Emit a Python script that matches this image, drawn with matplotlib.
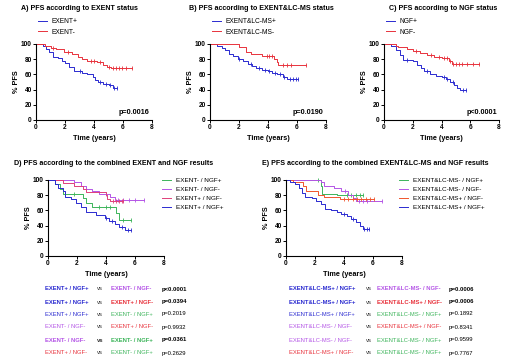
import matplotlib
matplotlib.use("Agg")
import matplotlib.pyplot as plt
import numpy as np

plt.rcParams['font.family'] = ['Liberation Sans', 'DejaVu Sans']

BLUE = '#2a2ad0'
RED = '#e8323c'
GREEN = '#3cb45a'
PURPLE = '#b455e6'
MAGENTA = '#e0407a'
ORANGE = '#f0552d'

# ---- Kaplan-Meier step data: event times, survival after each event, censor times
# Panel A
a_pos_t = [0.5, 0.7, 0.9, 1.2, 1.5, 1.8, 2.0, 2.3, 2.6, 3.2, 3.5, 3.9, 4.1, 4.3, 4.6, 5.0, 5.3]
a_pos_s = [97, 93, 90, 83, 81, 78, 75, 70, 64, 62, 60, 56, 52, 50, 48, 46, 42]
a_pos_c = [3.0, 4.4, 4.8, 5.1, 5.4, 5.6]
a_neg_t = [0.6, 1.0, 1.4, 1.9, 2.5, 2.9, 3.2, 3.5, 4.2, 4.6, 4.9, 5.2]
a_neg_s = [98, 95, 93, 90, 87, 83, 80, 78, 76, 73, 70, 68]
a_neg_c = [1.2, 2.2, 3.8, 4.0, 4.4, 5.0, 5.3, 5.5, 5.7, 5.9, 6.2, 6.6]
# Panel B
b_pos_t = [0.5, 0.8, 1.0, 1.3, 1.6, 1.9, 2.3, 2.6, 2.9, 3.2, 3.6, 4.0, 4.3, 4.6, 5.0, 5.3]
b_pos_s = [98, 95, 92, 87, 84, 80, 77, 74, 71, 68, 66, 64, 62, 60, 57, 54]
b_pos_c = [2.0, 2.8, 3.4, 3.8, 4.1, 4.5, 4.8, 5.1, 5.5, 5.7, 5.9, 6.1]
b_neg_t = [2.0, 2.5, 2.8, 3.6, 4.4, 4.6, 4.7]
b_neg_s = [96, 90, 87, 84, 80, 76, 73]
b_neg_c = [3.9, 4.1, 4.3, 5.0, 5.3, 5.6, 6.6]
# Panel C
c_pos_t = [0.5, 0.8, 1.1, 1.3, 2.0, 2.3, 2.6, 2.8, 3.2, 3.6, 4.0, 4.3, 4.6, 4.9, 5.1, 5.3]
c_pos_s = [97, 92, 86, 79, 77, 73, 68, 64, 60, 58, 56, 54, 50, 46, 42, 39]
c_pos_c = [1.6, 3.0, 4.2, 4.4, 4.8, 5.5, 5.7]
c_neg_t = [0.8, 1.0, 1.6, 2.0, 2.5, 3.0, 3.5, 4.0, 4.5, 4.7]
c_neg_s = [98, 96, 94, 91, 88, 85, 83, 81, 78, 74]
c_neg_c = [2.2, 3.3, 3.8, 4.2, 4.4, 4.6, 4.8, 5.0, 5.2, 5.4, 5.8, 6.2, 6.6]
# Panel D
d1_t = [0.5, 0.8, 1.0, 2.4, 2.6, 3.0, 4.7, 4.9]
d1_s = [95, 88, 82, 76, 70, 64, 56, 47]
d1_c = [1.8, 3.5, 4.0, 4.3, 5.2, 5.7]
d2_t = [1.8, 2.3, 2.6, 3.0, 3.5, 4.3, 4.6]
d2_s = [97, 92, 88, 85, 82, 78, 74]
d2_c = [4.0, 4.8, 5.2, 5.6, 6.0, 6.6]
d3_t = [1.0, 1.8, 2.4, 2.6, 4.0, 4.1, 4.3]
d3_s = [96, 92, 88, 84, 80, 75, 73]
d3_c = [4.5, 4.7, 4.9, 5.1, 5.2]
d4_t = [0.5, 0.7, 1.0, 1.2, 1.6, 1.9, 2.3, 2.6, 3.3, 3.9, 4.2, 4.6, 4.9, 5.3]
d4_s = [95, 90, 86, 78, 75, 70, 64, 58, 54, 50, 46, 42, 38, 34]
d4_c = [4.0, 4.4, 5.1, 5.5, 5.7]
# Panel E
e1_t = [2.4, 2.5, 3.5]
e1_s = [92, 82, 80]
e1_c = [2.2, 4.2, 4.5, 4.8, 5.1, 5.3]
e2_t = [2.4, 2.6, 3.3, 3.8, 4.3, 4.6, 4.8]
e2_s = [97, 92, 89, 85, 80, 76, 72]
e2_c = [4.1, 5.0, 5.3, 5.6, 6.6]
e3_t = [0.5, 1.2, 1.4, 2.0, 2.2, 2.6, 3.0, 3.7]
e3_s = [97, 92, 86, 85, 80, 78, 77, 75]
e3_c = [4.0, 4.3, 4.6, 4.9, 5.2, 5.5, 5.8, 6.1]
e4_t = [0.3, 0.6, 0.9, 1.1, 1.3, 1.8, 2.1, 2.4, 2.7, 3.1, 3.5, 3.8, 4.2, 4.5, 4.8, 5.1, 5.3]
e4_s = [98, 95, 90, 83, 78, 76, 72, 68, 62, 60, 58, 55, 52, 49, 45, 40, 36]
e4_c = [4.0, 4.6, 5.4, 5.6, 5.7]

p_a, p_b, p_c = "p=0.0016", "p=0.0190", "p<0.0001"

titles = ["A) PFS according to EXENT status",
          "B) PFS according to EXENT&LC-MS status",
          "C) PFS according to NGF status",
          "D) PFS according to the combined EXENT and NGF results",
          "E) PFS according to the combined EXENT&LC-MS and NGF results"]

# comparison tables: (label1, color1, label2, color2, p, bold)
left_rows = [("EXENT+ / NGF+", BLUE, "EXENT- / NGF-", PURPLE, "p<0.0001", True),
             ("EXENT+ / NGF+", BLUE, "EXENT+ / NGF-", RED, "p=0.0394", True),
             ("EXENT+ / NGF+", BLUE, "EXENT- / NGF+", GREEN, "p=0.2019", False),
             ("EXENT- / NGF-", PURPLE, "EXENT+ / NGF-", RED, "p=0.9932", False),
             ("EXENT- / NGF-", PURPLE, "EXENT- / NGF+", GREEN, "p=0.0361", True),
             ("EXENT+ / NGF-", RED, "EXENT- / NGF+", GREEN, "p=0.2629", False)]
right_rows = [("EXENT&LC-MS+ / NGF+", BLUE, "EXENT&LC-MS- / NGF-", PURPLE, "p=0.0006", True),
              ("EXENT&LC-MS+ / NGF+", BLUE, "EXENT&LC-MS+ / NGF-", RED, "p=0.0006", True),
              ("EXENT&LC-MS+ / NGF+", BLUE, "EXENT&LC-MS- / NGF+", GREEN, "p=0.1892", False),
              ("EXENT&LC-MS- / NGF-", PURPLE, "EXENT&LC-MS+ / NGF-", RED, "p=0.8341", False),
              ("EXENT&LC-MS- / NGF-", PURPLE, "EXENT&LC-MS- / NGF+", GREEN, "p=0.9599", False),
              ("EXENT&LC-MS+ / NGF-", RED, "EXENT&LC-MS- / NGF+", GREEN, "p=0.7767", False)]

W, H = 520, 364
fig = plt.figure(figsize=(W / 100, H / 100), dpi=100)


def px_ax(x0, y_top, w, h):
    return fig.add_axes([x0 / W, 1 - (y_top + h) / H, w / W, h / H])


def km(ax, t, s, cens, color, label):
    end = max(max(cens), max(t))
    xs = [0] + list(t) + [end]
    ys = [100] + list(s) + [s[-1]]
    ax.step(xs, ys, where='post', color=color, lw=0.7, label=label, clip_on=False)
    # censor ticks
    cy = [ys[np.searchsorted(xs, c, side='right') - 1] for c in cens]
    ax.plot(cens, cy, ls='none', marker='|', ms=2.5, mew=0.6, color=color, clip_on=False)


def style(ax):
    ax.set_xlim(0, 8)
    ax.set_ylim(0, 100)
    ax.set_xticks([0, 2, 4, 6, 8])
    ax.set_yticks([0, 20, 40, 60, 80, 100])
    for sp in ['top', 'right']:
        ax.spines[sp].set_visible(False)
    for sp in ['left', 'bottom']:
        ax.spines[sp].set_linewidth(0.8)
    ax.tick_params(length=2, width=0.7, labelsize=4.7, pad=1)
    for lab in ax.get_xticklabels() + ax.get_yticklabels():
        lab.set_fontweight('bold')
    ax.set_xlabel("Time (years)", fontsize=5.2, fontweight='bold', labelpad=2.5)
    ax.set_ylabel("% PFS", fontsize=5.2, fontweight='bold', labelpad=1)


ax_a = px_ax(36, 44, 116, 76)
ax_b = px_ax(210, 44, 116, 76)
ax_c = px_ax(384, 44, 115, 76)
ax_d = px_ax(48, 180, 116, 76)
ax_e = px_ax(286, 180, 116, 76)

km(ax_a, a_pos_t, a_pos_s, a_pos_c, BLUE, "EXENT+")
km(ax_a, a_neg_t, a_neg_s, a_neg_c, RED, "EXENT-")
km(ax_b, b_pos_t, b_pos_s, b_pos_c, BLUE, "EXENT&LC-MS+")
km(ax_b, b_neg_t, b_neg_s, b_neg_c, RED, "EXENT&LC-MS-")
km(ax_c, c_pos_t, c_pos_s, c_pos_c, BLUE, "NGF+")
km(ax_c, c_neg_t, c_neg_s, c_neg_c, RED, "NGF-")

km(ax_d, d1_t, d1_s, d1_c, GREEN, "EXENT- / NGF+")
km(ax_d, d2_t, d2_s, d2_c, PURPLE, "EXENT- / NGF-")
km(ax_d, d3_t, d3_s, d3_c, MAGENTA, "EXENT+ / NGF-")
km(ax_d, d4_t, d4_s, d4_c, BLUE, "EXENT+ / NGF+")

km(ax_e, e1_t, e1_s, e1_c, GREEN, "EXENT&LC-MS- / NGF+")
km(ax_e, e2_t, e2_s, e2_c, PURPLE, "EXENT&LC-MS- / NGF-")
km(ax_e, e3_t, e3_s, e3_c, ORANGE, "EXENT&LC-MS+ / NGF-")
km(ax_e, e4_t, e4_s, e4_c, BLUE, "EXENT&LC-MS+ / NGF+")

for ax in [ax_a, ax_b, ax_c, ax_d, ax_e]:
    style(ax)

for ax, p in [(ax_a, p_a), (ax_b, p_b), (ax_c, p_c)]:
    ax.text(0.98, 0.05, p, transform=ax.transAxes, ha='right', va='bottom',
            fontsize=5.2, fontweight='bold')

# legends above the top row, to the right for D and E
for ax, x in [(ax_a, 38), (ax_b, 212), (ax_c, 386)]:
    h, l = ax.get_legend_handles_labels()
    ax.legend(h, l, loc='upper left', bbox_to_anchor=(x / W, 1 - 18 / H),
              bbox_transform=fig.transFigure, frameon=False, fontsize=4.8,
              handlelength=1.4, handletextpad=0.6, labelspacing=0.55,
              borderpad=0, borderaxespad=0)
for ax, x in [(ax_d, 162), (ax_e, 399)]:
    h, l = ax.get_legend_handles_labels()
    ax.legend(h, l, loc='upper left', bbox_to_anchor=(x / W, 1 - 178 / H),
              bbox_transform=fig.transFigure, frameon=False, fontsize=4.6,
              handlelength=1.4, handletextpad=0.8, labelspacing=0.55,
              borderpad=0, borderaxespad=0)

# titles
title_pos = [(21, 8), (189, 8), (389, 8), (14, 164), (262, 164)]
for (x, y), t in zip(title_pos, titles):
    fig.text(x / W, 1 - y / H, t, ha='left', va='center', fontsize=5.1,
             fontweight='bold')

# comparison tables
row_y = [289, 302, 314, 327, 340, 353]


def table(rows, xs):
    for (l1, c1, l2, c2, p, bold), y in zip(rows, row_y):
        w = 'bold' if bold else 'normal'
        yy = 1 - y / H
        fig.text(xs[0] / W, yy, l1, color=c1, fontsize=4.2, fontweight=w, va='center')
        fig.text(xs[1] / W, yy, "vs", color='#333333', fontsize=4.2, va='center',
                 fontweight=w if l1.startswith("EXENT- ") else 'normal')
        fig.text(xs[2] / W, yy, l2, color=c2, fontsize=4.2, fontweight=w, va='center')
        fig.text(xs[3] / W, yy, p, color='black', fontsize=4.2, fontweight=w, va='center')


table(left_rows, [45, 97, 111, 162])
table(right_rows, [289, 366, 377, 449])

fig.savefig("out.png", dpi=100)
